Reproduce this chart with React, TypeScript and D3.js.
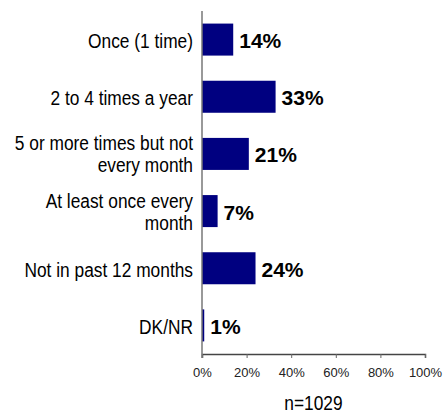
import React, { useEffect, useRef } from "react";
import * as d3 from "d3";

const categories = [
  ["Once (1 time)"],
  ["2 to 4 times a year"],
  ["5 or more times but not", "every month"],
  ["At least once every", "month"],
  ["Not in past 12 months"],
  ["DK/NR"],
];
const values = [14, 33, 21, 7, 24, 1];
const ticks = [0, 20, 40, 60, 80, 100];
const note = "n=1029";

const width = 446;
const height = 415;
const left = 202;
const right = 425;
const top = 11;
const bottom = 354;

const App: React.FC = () => {
  const svgRef = useRef<SVGSVGElement | null>(null);

  useEffect(() => {
    const svg = d3.select(svgRef.current);
    svg.selectAll("*").remove();

    const x = d3.scaleLinear().domain([0, 100]).range([left, right]);
    const y = d3
      .scaleBand<number>()
      .domain(d3.range(values.length))
      .range([top, bottom])
      .paddingInner(0.44)
      .paddingOuter(0.22);

    svg
      .append("g")
      .selectAll("rect")
      .data(values)
      .enter()
      .append("rect")
      .attr("x", x(0))
      .attr("y", (d, i) => y(i) as number)
      .attr("width", d => x(d) - x(0))
      .attr("height", y.bandwidth())
      .attr("fill", "#000080");

    // category labels (narrow font look)
    categories.forEach((lines, i) => {
      const c = (y(i) as number) + y.bandwidth() / 2;
      lines.forEach((line, j) => {
        const off = lines.length > 1 ? (j - (lines.length - 1) / 2) * 22 + 7.5 : 8.5;
        svg
          .append("text")
          .attr("transform", `translate(193, ${c + off}) scale(0.825, 1)`)
          .attr("text-anchor", "end")
          .attr("font-family", "Liberation Sans, Arial, sans-serif")
          .attr("font-size", 21)
          .attr("fill", "#000")
          .text(line);
      });
    });

    // value labels
    svg
      .append("g")
      .selectAll("text")
      .data(values)
      .enter()
      .append("text")
      .attr("x", d => x(d) + 6)
      .attr("y", (d, i) => (y(i) as number) + y.bandwidth() / 2 + 8.5)
      .attr("font-family", "Liberation Sans, Arial, sans-serif")
      .attr("font-weight", "bold")
      .attr("font-size", 21)
      .attr("fill", "#000")
      .text(d => `${d}%`);

    // x axis
    const axisX = d3
      .axisBottom(x)
      .tickValues(ticks)
      .tickSize(4)
      .tickFormat(d => `${d}%`);
    const gx = svg
      .append("g")
      .attr("transform", `translate(0, ${bottom})`)
      .call(axisX);
    gx.select(".domain").attr("stroke", "#444").attr("stroke-width", 1.5);
    gx.selectAll(".tick line").attr("stroke", "#666");
    gx.selectAll(".tick text")
      .attr("font-family", "Liberation Sans, Arial, sans-serif")
      .attr("font-size", 13)
      .attr("fill", "#222")
      .attr("dy", "0")
      .attr("y", 23);

    // y axis line
    svg
      .append("line")
      .attr("x1", left)
      .attr("x2", left)
      .attr("y1", top)
      .attr("y2", bottom + 4)
      .attr("stroke", "#777")
      .attr("stroke-width", 1.5);

    svg
      .append("text")
      .attr("transform", `translate(${(left + right) / 2}, 410) scale(0.825, 1)`)
      .attr("text-anchor", "middle")
      .attr("font-family", "Liberation Sans, Arial, sans-serif")
      .attr("font-size", 21)
      .attr("fill", "#000")
      .text(note);
  }, []);

  return (
    <svg
      ref={svgRef}
      width={width}
      height={height}
      style={{ position: "absolute", left: 0, top: 0, background: "#fff" }}
    ></svg>
  );
};

export default App;
